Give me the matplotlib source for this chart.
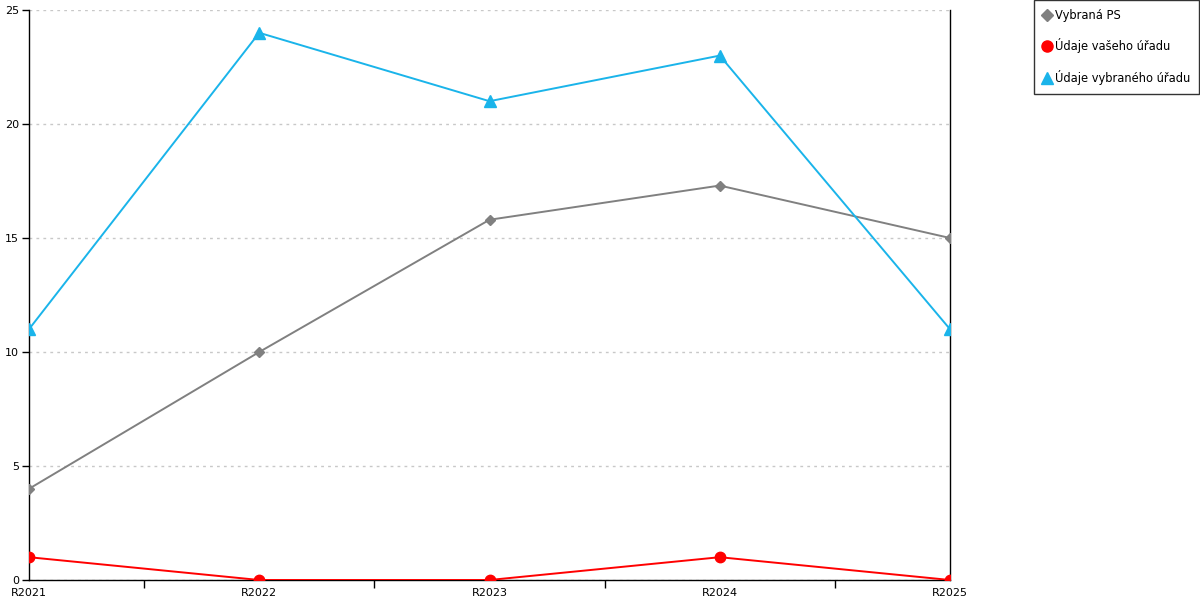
import matplotlib
matplotlib.use("Agg")
import matplotlib.pyplot as plt
from matplotlib.lines import Line2D
import numpy as np

kategorie = ["R2021", "R2022", "R2023", "R2024", "R2025"]
vybrana_ps = [4, 10, 15.8, 17.3, 15]
vas_urad = [1, 0, 0, 1, 0]
vybrany_urad = [11, 24, 21, 23, 11]

sede = "#808080"
cervena = "#ff0000"
modra = "#1ab4ea"

plt.rcParams['font.family'] = ['DejaVu Sans']
fig = plt.figure(figsize=(12, 6), dpi=100)
ax = fig.add_axes([29/1200, 20/600, 921/1200, 570/600])

x = np.arange(len(kategorie))
ax.plot(x, vybrana_ps, color=sede, lw=1.4, marker="D", ms=5.5, zorder=3)
ax.plot(x, vas_urad, color=cervena, lw=1.4, marker="o", ms=7.5, zorder=3)
ax.plot(x, vybrany_urad, color=modra, lw=1.4, marker="^", ms=8, zorder=3)

ax.set_xlim(0, len(kategorie) - 1)
ax.set_ylim(0, 25)
ax.set_yticks([0, 5, 10, 15, 20, 25])
ax.set_xticks(x)
ax.set_xticklabels(kategorie)
ax.set_xticks(x[:-1] + 0.5, minor=True)
ax.tick_params(axis="x", which="major", length=0, pad=6, labelsize=8)
ax.tick_params(axis="x", which="minor", length=6, width=1, direction="out")
ax.tick_params(axis="y", length=5, width=1, pad=2, labelsize=8)

ax.grid(axis="y", color="#c8c8c8", linestyle=(0, (2, 3)), lw=1)
ax.set_axisbelow(True)
for s in ["left", "bottom", "right"]:
    ax.spines[s].set_color("black")
    ax.spines[s].set_linewidth(1)
ax.spines["top"].set_visible(False)

handles = [
    Line2D([], [], color=sede, marker="D", ls="none", ms=6),
    Line2D([], [], color=cervena, marker="o", ls="none", ms=8),
    Line2D([], [], color=modra, marker="^", ls="none", ms=8),
]
labels = ["Vybraná PS", "Údaje vašeho úřadu", "Údaje vybraného úřadu"]
leg = fig.legend(handles, labels, loc="upper right", bbox_to_anchor=(1199/1200, 1.0),
                 frameon=True, fancybox=False, edgecolor="black", fontsize=8.3,
                 labelspacing=1.45, handlelength=0.8, handletextpad=0.3,
                 borderpad=0.75, borderaxespad=0)
leg.get_frame().set_linewidth(1)

fig.savefig("out.png", dpi=100)
